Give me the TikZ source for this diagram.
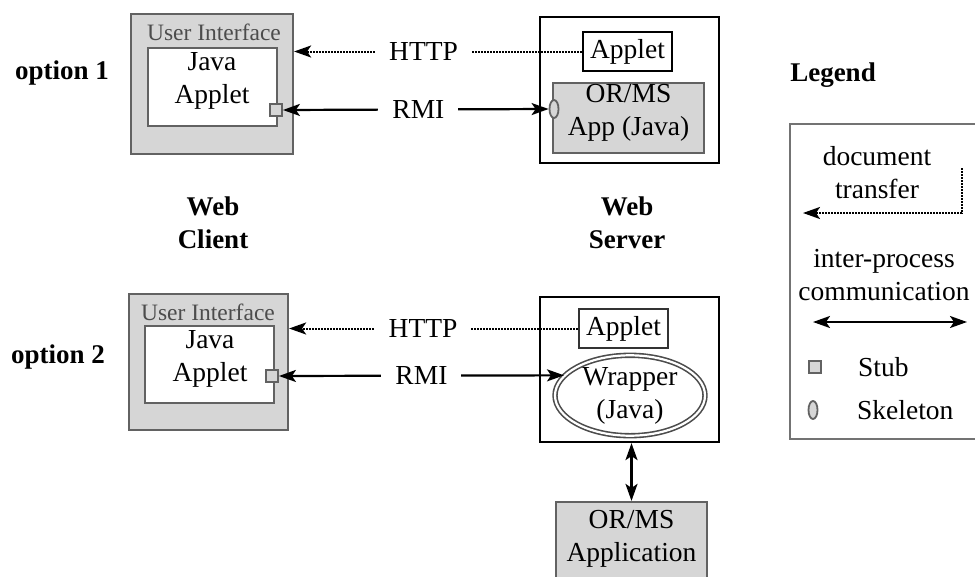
\documentclass[tikz,border=0pt]{standalone}
\usepackage{fontspec}
\setmainfont{Liberation Serif}
\usetikzlibrary{arrows.meta,shapes.geometric}
\definecolor{boxgray}{HTML}{D6D6D6}
\definecolor{edgegray}{HTML}{626262}
\begin{document}
\begin{tikzpicture}[x=1pt,y=-1pt,
  every node/.style={font=\fontsize{27.5}{33}\selectfont, inner sep=0pt, align=center},
  graybox/.style={rectangle, draw=edgegray, fill=boxgray, line width=2.2pt},
  whitebox/.style={rectangle, draw=edgegray, fill=white, line width=2.4pt},
  blackbox/.style={rectangle, draw=black, fill=white, line width=2.2pt},
  stubsq/.style={rectangle, draw=edgegray, fill=boxgray, line width=1.8pt, minimum size=12pt},
  skelov/.style={ellipse, draw=edgegray, fill=boxgray, line width=1.8pt, minimum width=9pt, minimum height=18pt},
  boldlbl/.style={font=\fontsize{27}{33}\selectfont\bfseries},
  uilbl/.style={font=\fontsize{23.5}{27}\selectfont, text=black!70},
  lbl/.style={fill=white, inner xsep=14pt, inner ysep=3pt},
  tipA/.tip={Stealth[length=17pt,width=12pt,inset=4pt]},
  doctrans/.style={line width=2pt, dash pattern=on 1.6pt off 1.4pt, -tipA},
  ipc/.style={line width=2.2pt, tipA-tipA},
]
\useasboundingbox (0,0) rectangle (975,576);
\clip (0,0) rectangle (975,576);

% ---------- option 1 ----------
\node[boldlbl] (opt1) at (62,73) {option 1};
\node[graybox, minimum width=162pt, minimum height=140pt] (client1) at (212,84) {};
\node[uilbl] (ui1) at (214,32) {User Interface};
\node[whitebox, minimum width=129pt, minimum height=78pt] (inner1) at (212.5,87) {};
\node (ja1) at (212,81) {Java\\Applet};
\node[stubsq] (stub1) at (276,110) {};

\node[blackbox, minimum width=179pt, minimum height=146pt] (server1) at (629.5,90) {};
\node[blackbox, minimum width=89pt, minimum height=39pt] (applet1) at (627.5,51.5) {Applet};
\node[graybox, minimum width=151pt, minimum height=70pt] (orms1) at (628.5,118) {};
\node (orms1txt) at (628.5,113) {OR/MS\\App (Java)};
\node[skelov] (skel1) at (554,109) {};

\draw[doctrans] (applet1.west) -- node[lbl, pos=0.55] (http1) {HTTP} (applet1.west -| client1.east);
\draw[ipc] (stub1.east) -- node[lbl, pos=0.51] (rmi1) {RMI} (skel1.west);

% ---------- middle labels ----------
\node[boldlbl] (webclient) at (213,223) {Web\\Client};
\node[boldlbl] (webserver) at (627,223) {Web\\Server};

% ---------- option 2 ----------
\node[boldlbl] (opt2) at (58,357) {option 2};
\node[graybox, minimum width=159pt, minimum height=136pt] (client2) at (208.5,362) {};
\node[uilbl] (ui2) at (208,312) {User Interface};
\node[whitebox, minimum width=129pt, minimum height=77pt] (inner2) at (209.5,364.5) {};
\node (ja2) at (210,359) {Java\\Applet};
\node[stubsq] (stub2) at (272,376) {};

\node[blackbox, minimum width=179pt, minimum height=145pt] (server2) at (629.5,369.5) {};
\node[blackbox, draw=black!80, minimum width=89pt, minimum height=39pt] (applet2) at (623.5,328.5) {Applet};
\node[ellipse, draw=black!70, double=white, double distance=2.2pt, line width=1.6pt, fill=white,
      minimum width=150pt, minimum height=73pt] (wrapper) at (630,395.5) {Wrapper\\(Java)};

\draw[doctrans] (applet2.west) -- node[lbl, pos=0.536] (http2) {HTTP} (applet2.west -| client2.east);
\draw[ipc] (stub2.east) -- node[lbl, pos=0.5] (rmi2) {RMI} (wrapper.163.6);

\node[graybox, minimum width=151pt, minimum height=84pt] (orms2) at (631.5,544) {};
\node (orms2txt) at (631.5,538.5) {OR/MS\\Application};
\draw[ipc] (orms2.north |- server2.south) -- (orms2.north);

% ---------- legend ----------
\node[boldlbl] (legend) at (833,75) {Legend};
\node[rectangle, draw=black!55, line width=2.2pt, minimum width=200pt, minimum height=315pt] (legendbox) at (890,281.5) {};
\node (doclbl) at (877,172.5) {document\\transfer};
\coordinate (dtA) at (962,168);
\coordinate (dtB) at (962,213);
\coordinate (dtC) at (803,213);
\draw[doctrans] (dtA) -- (dtB) -- (dtC);
\node (ipclbl) at (884,275) {inter-process\\communication};
\coordinate (ipcA) at (813,322);
\coordinate (ipcB) at (967,322);
\draw[ipc] (ipcA) -- (ipcB);
\node[stubsq] (stubL) at (815,367) {};
\node[anchor=west] (stubtxt) at (858,367) {Stub};
\node[skelov] (skelL) at (813,410) {};
\node[anchor=west] (skeltxt) at (857,410) {Skeleton};
\end{tikzpicture}
\end{document}
